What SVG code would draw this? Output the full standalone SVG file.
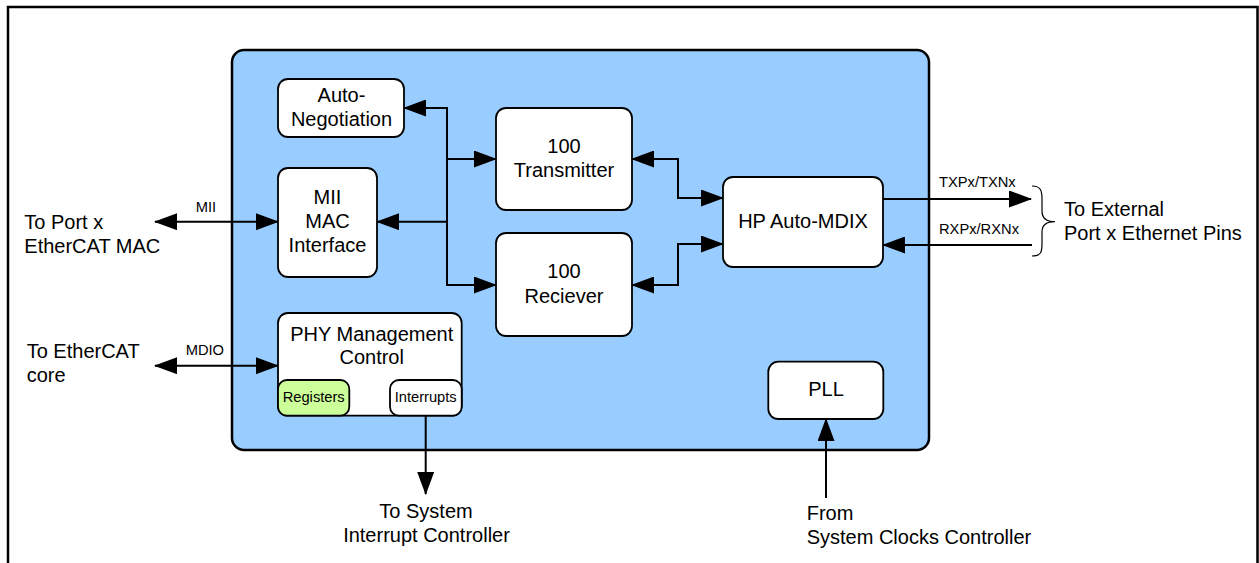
<svg xmlns="http://www.w3.org/2000/svg" width="1259" height="563" viewBox="0 0 1259 563">
<defs>
<marker id="ah" viewBox="0 0 23 17" refX="22" refY="8.5" markerWidth="23" markerHeight="17" markerUnits="userSpaceOnUse" orient="auto-start-reverse">
<path d="M0,0 L23,8.5 L0,17 z" fill="#000"/>
</marker>
<style>
text{font-family:"Liberation Sans",Arial,sans-serif;fill:#000}
.b{font-size:20px}
.s{font-size:14.7px}
.m{text-anchor:middle}
.box{fill:#fff;stroke:#000;stroke-width:1.8}
.ln{fill:none;stroke:#000;stroke-width:2}
</style>
</defs>
<rect width="1259" height="563" fill="#fff"/>
<path d="M8,563 V7 H1257.5 V563" fill="none" stroke="#000" stroke-width="2.5"/>
<g id="phy-block">
<rect x="232" y="50" width="697" height="400" rx="12" fill="#99CCFF" stroke="#000" stroke-width="2.5"/>
</g>
<g id="connectors">
<path class="ln" d="M155,221.7 H278" marker-start="url(#ah)" marker-end="url(#ah)"/>
<path class="ln" d="M155,365.7 H278" marker-start="url(#ah)" marker-end="url(#ah)"/>
<path class="ln" d="M404,108 H447 V285 H496" marker-start="url(#ah)" marker-end="url(#ah)"/>
<path class="ln" d="M447,159 H496" marker-end="url(#ah)"/>
<path class="ln" d="M447,221.7 H377" marker-end="url(#ah)"/>
<path class="ln" d="M632,159 H678 V198 H723" marker-start="url(#ah)" marker-end="url(#ah)"/>
<path class="ln" d="M632,285 H678 V244 H723" marker-start="url(#ah)" marker-end="url(#ah)"/>
<path class="ln" d="M883,199 H1031" marker-end="url(#ah)"/>
<path class="ln" d="M1032,245 H883" marker-end="url(#ah)"/>
<path class="ln" d="M425.7,415.7 V494" marker-end="url(#ah)"/>
<path class="ln" d="M826,498 V419" marker-end="url(#ah)"/>
<path d="M1032,186 C1041,186 1042,191 1042,199 V211 C1042,218 1046,221.7 1055,221.7 C1046,221.7 1042,225 1042,232 V244 C1042,252 1041,256 1032,256" fill="none" stroke="#000" stroke-width="1.2"/>
<text class="s" x="195.7" y="211.7">MII</text>
<text class="s" x="185.7" y="355">MDIO</text>
<text class="s" x="939" y="187">TXPx/TXNx</text>
<text class="s" x="939" y="234">RXPx/RXNx</text>
</g>
<g id="auto-negotiation">
<rect class="box" x="278" y="79" width="126" height="58" rx="10"/>
<text class="b m" x="341.5" y="102.3">Auto-</text>
<text class="b m" x="341.5" y="126">Negotiation</text>
</g>
<g id="mii-mac-interface">
<rect class="box" x="278" y="168" width="99" height="109" rx="10"/>
<text class="b m" x="327.5" y="204">MII</text>
<text class="b m" x="327.5" y="227.7">MAC</text>
<text class="b m" x="327.5" y="251.7">Interface</text>
</g>
<g id="transmitter">
<rect class="box" x="496" y="108" width="136" height="102" rx="10"/>
<text class="b m" x="564" y="153.3">100</text>
<text class="b m" x="564" y="176.7">Transmitter</text>
</g>
<g id="reciever">
<rect class="box" x="496" y="233" width="136" height="103" rx="10"/>
<text class="b m" x="564" y="278.3">100</text>
<text class="b m" x="564" y="303.3">Reciever</text>
</g>
<g id="hp-auto-mdix">
<rect class="box" x="723" y="177" width="160" height="90" rx="10"/>
<text class="b m" x="803" y="228.3">HP Auto-MDIX</text>
</g>
<g id="phy-management-control">
<rect class="box" x="278" y="313" width="183.7" height="102.7" rx="10"/>
<text class="b m" x="371.7" y="340.7">PHY Management</text>
<text class="b m" x="371.7" y="364">Control</text>
<rect x="278" y="380" width="71.3" height="35.7" rx="9" fill="#CCFF99" stroke="#000" stroke-width="1.8"/>
<text class="s m" x="313.7" y="402.3">Registers</text>
<rect class="box" x="390" y="380" width="71.7" height="35.7" rx="9"/>
<text class="s m" x="425.7" y="402.3">Interrupts</text>
</g>
<g id="pll">
<rect class="box" x="768.3" y="361.7" width="115" height="57.3" rx="10"/>
<text class="b m" x="826" y="395.7">PLL</text>
</g>
<g id="ext-labels">
<text class="b" x="24.3" y="229">To Port x</text>
<text class="b" x="24.3" y="253">EtherCAT MAC</text>
<text class="b" x="26.7" y="358">To EtherCAT</text>
<text class="b" x="26.7" y="381.7">core</text>
<text class="b m" x="426" y="518.3">To System</text>
<text class="b m" x="426.5" y="541.7">Interrupt Controller</text>
<text class="b" x="806.7" y="520">From</text>
<text class="b" x="806.7" y="544">System Clocks Controller</text>
<text class="b" x="1064" y="216">To External</text>
<text class="b" x="1064" y="240">Port x Ethernet Pins</text>
</g>
</svg>
